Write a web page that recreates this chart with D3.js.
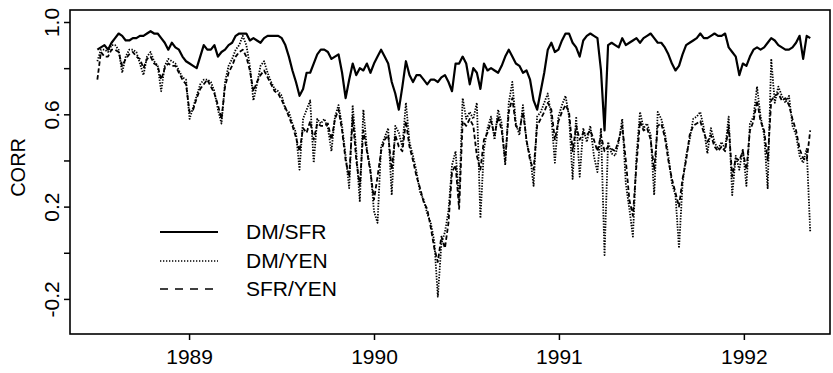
<!DOCTYPE html>
<html>
<head>
<meta charset="utf-8">
<script src="https://cdn.jsdelivr.net/npm/d3@7"></script>
<style>
  html, body { margin: 0; padding: 0; background: #fff; }
  svg { display: block; font-family: "Liberation Sans", Arial, Helvetica, sans-serif; }
</style>
</head>
<body>
<svg id="chart" width="833" height="373"></svg>
<script>
// Weekly rolling correlations, first observation on 4 July 1988
const startDate = "1988-07-04";
const stepDays = 7;

const dmSfr = [
  .88,.89,.90,.88,.91,.93,.95,.94,.92,.92,
  .93,.93,.94,.94,.95,.96,.95,.95,.93,.91,
  .88,.91,.89,.88,.85,.83,.82,.81,.80,.85,
  .90,.88,.88,.90,.85,.87,.88,.90,.91,.94,
  .95,.95,.95,.92,.93,.92,.91,.93,.94,.94,
  .94,.94,.93,.90,.85,.79,.74,.68,.71,.78,
  .78,.82,.86,.88,.88,.87,.84,.85,.86,.78,
  .67,.75,.82,.77,.80,.79,.82,.78,.82,.85,
  .88,.85,.82,.74,.69,.62,.72,.83,.77,.74,
  .77,.77,.75,.73,.75,.75,.74,.76,.77,.74,
  .70,.82,.82,.85,.82,.73,.80,.78,.71,.82,
  .79,.80,.79,.78,.81,.85,.88,.85,.82,.81,
  .78,.79,.75,.66,.62,.70,.78,.88,.91,.87,
  .88,.92,.95,.95,.91,.89,.85,.92,.94,.95,
  .94,.93,.79,.53,.90,.91,.90,.89,.93,.90,
  .91,.92,.93,.91,.93,.94,.95,.93,.91,.91,
  .89,.86,.82,.79,.81,.86,.90,.91,.92,.93,
  .95,.93,.93,.94,.95,.94,.94,.95,.89,.87,
  .85,.77,.82,.81,.85,.88,.89,.88,.89,.91,
  .93,.92,.90,.89,.88,.88,.89,.91,.94,.84,
  .94,.93
];

const dmYen = [
  .83,.88,.88,.87,.90,.90,.88,.78,.85,.88,
  .88,.87,.82,.77,.85,.87,.83,.81,.70,.81,
  .84,.83,.82,.79,.76,.75,.58,.63,.68,.73,
  .75,.75,.74,.70,.62,.56,.74,.81,.84,.88,
  .90,.94,.90,.81,.66,.73,.81,.83,.78,.74,
  .71,.70,.68,.62,.61,.56,.52,.36,.58,.62,
  .66,.39,.58,.56,.58,.54,.44,.59,.64,.55,
  .42,.28,.64,.44,.22,.62,.45,.36,.18,.13,
  .46,.50,.54,.25,.55,.52,.46,.65,.48,.42,
  .35,.26,.23,.17,.13,.05,-.19,.04,.09,.18,
  .38,.44,.23,.67,.58,.61,.58,.65,.15,.45,
  .54,.59,.49,.62,.56,.38,.65,.74,.56,.51,
  .64,.48,.42,.29,.59,.61,.65,.69,.59,.39,
  .59,.64,.68,.59,.32,.59,.33,.54,.48,.55,
  .42,.35,.54,-.01,.48,.43,.42,.48,.58,.30,
  .19,.07,.42,.61,.54,.56,.51,.25,.61,.58,
  .52,.42,.30,.25,.02,.30,.42,.49,.58,.59,
  .61,.54,.43,.54,.48,.45,.48,.45,.59,.25,
  .42,.36,.45,.29,.56,.59,.72,.59,.51,.28,
  .84,.65,.72,.68,.65,.68,.55,.51,.42,.39,
  .45,.09
];

const sfrYen = [
  .75,.87,.85,.85,.88,.88,.87,.81,.84,.86,
  .87,.85,.84,.80,.84,.85,.82,.81,.75,.80,
  .82,.81,.81,.78,.75,.73,.61,.62,.67,.71,
  .73,.75,.72,.69,.64,.58,.72,.78,.81,.85,
  .87,.88,.85,.79,.70,.74,.77,.79,.76,.73,
  .70,.69,.66,.63,.59,.55,.50,.44,.54,.52,
  .57,.49,.56,.55,.55,.56,.49,.58,.62,.53,
  .40,.33,.59,.40,.29,.53,.44,.35,.23,.33,
  .44,.49,.51,.36,.51,.46,.44,.57,.46,.40,
  .33,.28,.22,.19,.11,.02,-.04,.07,.02,.13,
  .35,.38,.19,.57,.55,.58,.55,.42,.36,.49,
  .52,.57,.51,.59,.53,.40,.61,.67,.55,.53,
  .61,.49,.40,.36,.55,.58,.61,.65,.62,.49,
  .57,.61,.64,.61,.44,.55,.49,.52,.51,.53,
  .49,.44,.51,.44,.46,.45,.44,.49,.55,.40,
  .23,.16,.38,.57,.53,.54,.49,.36,.55,.56,
  .50,.40,.32,.26,.20,.32,.40,.51,.55,.56,
  .57,.52,.48,.51,.46,.44,.46,.44,.55,.33,
  .41,.40,.44,.36,.53,.57,.66,.57,.53,.40,
  .66,.68,.69,.66,.67,.64,.58,.53,.45,.41,
  .40,.53
];

const seriesNames = ["DM/SFR", "DM/YEN", "SFR/YEN"];
const yearTicks = [1989, 1990, 1991, 1992];
const yTickValues = [-0.2, 0.0, 0.2, 0.4, 0.6, 0.8, 1.0];
const yLabelled = ["1.0", "0.6", "0.2", "-0.2"];
const axisTitle = "CORR";

// ---- layout ----
const svg = d3.select("#chart");
const plot = { left: 70, right: 830, top: 10, bottom: 334 };
const fontStack = "'Liberation Sans', Arial, sans-serif";

const parse = d3.timeParse("%Y-%m-%d");
const t0 = parse(startDate);
const dates = dmSfr.map((_, i) => d3.timeDay.offset(t0, i * stepDays));

const x = d3.scaleTime()
  .domain([new Date(1988, 4, 11), new Date(1992, 5, 19)])
  .range([plot.left, plot.right]);
const y = d3.scaleLinear()
  .domain([-0.352, 1.052])
  .range([plot.bottom, plot.top]);

const styles = [
  { data: dmSfr, width: 2.2, dash: null },
  { data: dmYen, width: 1.8, dash: "1.4,1.4" },
  { data: sfrYen, width: 1.8, dash: "4.5,2.5" }
];

const line = d3.line()
  .x(d => x(d.t))
  .y(d => y(d.v));

const g = svg.append("g");

// Yen series first so the solid DM/SFR line sits on top
[styles[2], styles[1], styles[0]].forEach(s => {
  g.append("path")
    .datum(s.data.map((v, i) => ({ t: dates[i], v })))
    .attr("fill", "none")
    .attr("stroke", "#000")
    .attr("stroke-width", s.width)
    .attr("stroke-linejoin", "round")
    .attr("stroke-dasharray", s.dash)
    .attr("d", line);
});

// Frame
svg.append("rect")
  .attr("x", plot.left).attr("y", plot.top)
  .attr("width", plot.right - plot.left)
  .attr("height", plot.bottom - plot.top)
  .attr("fill", "none").attr("stroke", "#000").attr("stroke-width", 1.6);

// Bottom axis
const xAxis = d3.axisBottom(x)
  .tickValues(yearTicks.map(yr => new Date(yr, 0, 1)))
  .tickSize(6).tickPadding(9)
  .tickFormat(d3.timeFormat("%Y"));
const gx = svg.append("g")
  .attr("transform", `translate(0,${plot.bottom})`)
  .call(xAxis);
gx.select(".domain").remove();
gx.selectAll(".tick line").attr("stroke", "#000").attr("stroke-width", 1.5);
gx.selectAll(".tick text")
  .attr("fill", "#000")
  .style("font-size", "21px")
  .style("font-family", fontStack);

// Left axis: every 0.2 ticked, every other one labelled, labels rotated
const fmt = v => (Math.abs(v) < 1e-9 ? 0 : v).toFixed(1);
const yAxis = d3.axisLeft(y)
  .tickValues(yTickValues)
  .tickSize(6)
  .tickFormat(v => yLabelled.includes(fmt(v)) ? fmt(v) : "");
const gy = svg.append("g")
  .attr("transform", `translate(${plot.left},0)`)
  .call(yAxis);
gy.select(".domain").remove();
gy.selectAll(".tick line").attr("stroke", "#000").attr("stroke-width", 1.5);
gy.selectAll(".tick text")
  .attr("fill", "#000")
  .attr("x", null)
  .attr("text-anchor", "middle")
  .attr("transform", "translate(-18,0) rotate(-90)")
  .attr("dy", "0.35em")
  .style("font-size", "21px")
  .style("font-family", fontStack);

svg.append("text")
  .attr("transform", `translate(18,${y(0.37)}) rotate(-90)`)
  .attr("text-anchor", "middle")
  .attr("dy", "0.35em")
  .style("font-size", "20px")
  .text(axisTitle);

// Legend
const legend = svg.append("g");
const legendRows = [232, 261, 289];
seriesNames.forEach((name, i) => {
  legend.append("line")
    .attr("x1", 160).attr("x2", 218)
    .attr("y1", legendRows[i]).attr("y2", legendRows[i])
    .attr("stroke", "#000")
    .attr("stroke-width", i === 0 ? 1.8 : 1.3)
    .attr("stroke-dasharray", i === 0 ? null : (i === 1 ? "1.3,1.7" : "8,7"));
  legend.append("text")
    .attr("x", 246).attr("y", legendRows[i])
    .attr("dy", "0.35em")
    .style("font-size", "21px")
    .text(name);
});
</script>
</body>
</html>
